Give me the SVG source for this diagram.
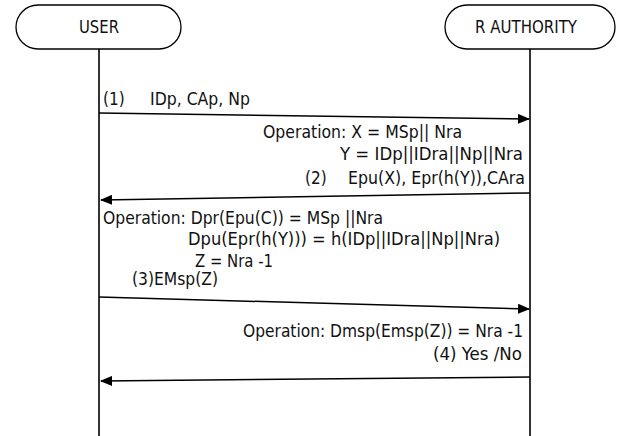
<svg xmlns="http://www.w3.org/2000/svg" width="622" height="436" viewBox="0 0 622 436">
<style>
.node{fill:#fff;stroke:#000;stroke-width:1.3}
.life{stroke:#000;stroke-width:1.6;fill:none}
.msg{stroke:#000;stroke-width:1.5;fill:none}
text{font-family:"DejaVu Sans Condensed","DejaVu Sans",sans-serif;font-size:17px;fill:#111}
</style>
<defs>
<marker id="ah" viewBox="0 0 12 10" refX="11" refY="5" markerWidth="12" markerHeight="10" markerUnits="userSpaceOnUse" orient="auto">
<path d="M0,0 L12,5 L0,10 Z" fill="#000"/>
</marker>
</defs>
<g id="user">
<rect class="node" x="16" y="5" width="165" height="44" rx="22" ry="22"/>
<text x="79" y="33" textLength="40" lengthAdjust="spacingAndGlyphs">USER</text>
</g>
<g id="authority">
<rect class="node" x="445" y="5" width="170" height="44" rx="22" ry="22"/>
<text x="475" y="33" textLength="102" lengthAdjust="spacingAndGlyphs">R AUTHORITY</text>
</g>
<g id="connectors">
<line class="life" x1="99" y1="49" x2="99" y2="436"/>
<line class="life" x1="530" y1="49" x2="530" y2="436"/>
<path class="msg" d="M99,113 L529,119" marker-end="url(#ah)"/>
<path class="msg" d="M530,193 L101,200" marker-end="url(#ah)"/>
<path class="msg" d="M99,297 L529,309" marker-end="url(#ah)"/>
<path class="msg" d="M530,377 L101,381" marker-end="url(#ah)"/>
</g>
<g id="labels">
<text y="105"><tspan x="103">(1)</tspan><tspan x="150" textLength="100" lengthAdjust="spacingAndGlyphs">IDp, CAp, Np</tspan></text>
<text x="263" y="138" textLength="199" lengthAdjust="spacingAndGlyphs">Operation: X = MSp|| Nra</text>
<text x="340" y="160" textLength="183" lengthAdjust="spacingAndGlyphs">Y = IDp||IDra||Np||Nra</text>
<text y="184"><tspan x="305">(2)</tspan><tspan x="348" textLength="177" lengthAdjust="spacingAndGlyphs">Epu(X), Epr(h(Y)),CAra</tspan></text>
<text x="103" y="224" textLength="280" lengthAdjust="spacingAndGlyphs">Operation: Dpr(Epu(C)) = MSp ||Nra</text>
<text x="188" y="245" textLength="312" lengthAdjust="spacingAndGlyphs">Dpu(Epr(h(Y))) = h(IDp||IDra||Np||Nra)</text>
<text x="195" y="267" textLength="78" lengthAdjust="spacingAndGlyphs">Z = Nra -1</text>
<text x="132" y="285" textLength="86" lengthAdjust="spacingAndGlyphs">(3)EMsp(Z)</text>
<text x="243" y="337" textLength="280" lengthAdjust="spacingAndGlyphs">Operation: Dmsp(Emsp(Z)) = Nra -1</text>
<text x="433" y="360" textLength="89" lengthAdjust="spacingAndGlyphs">(4) Yes /No</text>
</g>
</svg>
